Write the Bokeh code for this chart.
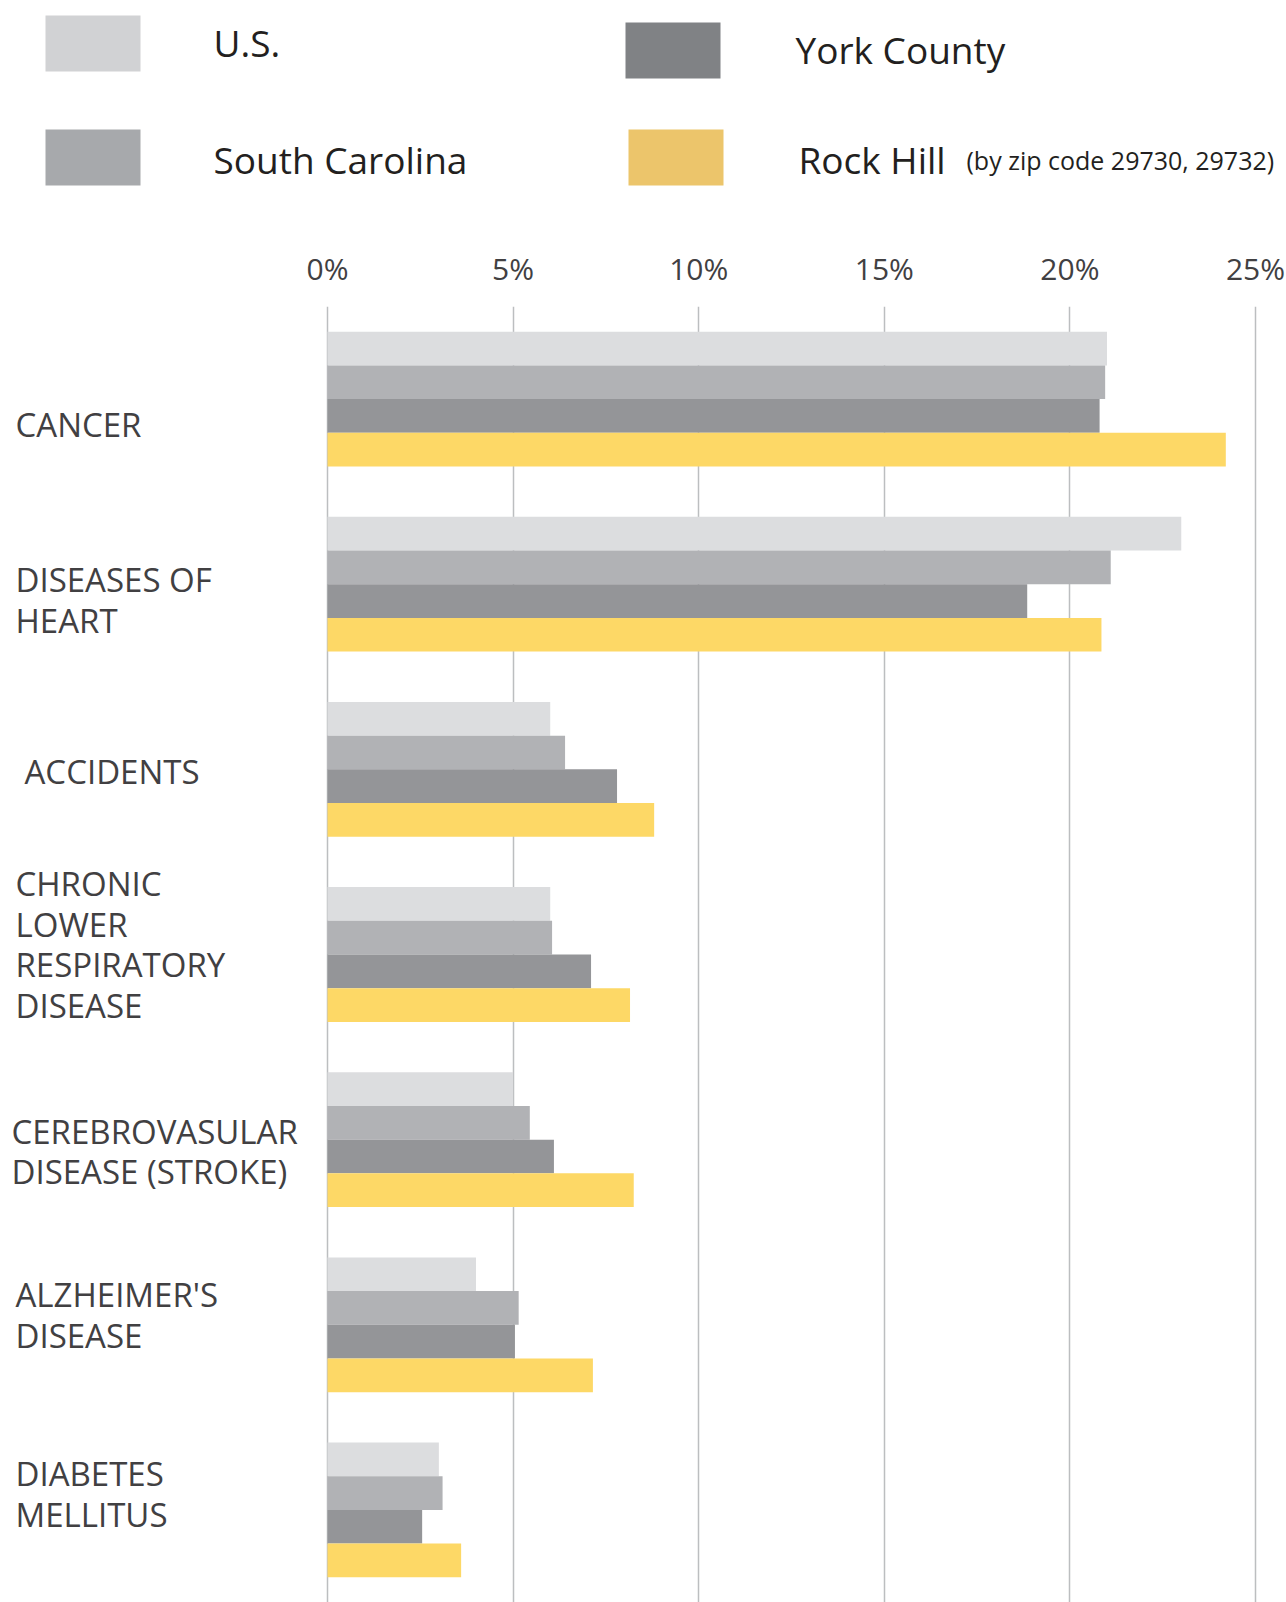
from bokeh.plotting import figure
from bokeh.layouts import column
from bokeh.models import FactorRange, Range1d, LinearAxis, FixedTicker, Grid, ColumnDataSource
from bokeh.transform import dodge
from bokeh.core.properties import value
from bokeh.embed import file_html
from bokeh.resources import INLINE

# ---------------- data ----------------
categories = ["CANCER", "DISEASES OF\nHEART", "ACCIDENTS", "CHRONIC\nLOWER\nRESPIRATORY\nDISEASE",
              "CEREBROVASULAR\nDISEASE (STROKE)", "ALZHEIMER'S\nDISEASE", "DIABETES\nMELLITUS"]
series_names = ["U.S.", "South Carolina", "York County", "Rock Hill"]
us = [21.0, 23.0, 6.0, 6.0, 5.0, 4.0, 3.0]
south_carolina = [20.95, 21.1, 6.4, 6.05, 5.45, 5.15, 3.1]
york_county = [20.8, 18.85, 7.8, 7.1, 6.1, 5.05, 2.55]
rock_hill = [24.2, 20.85, 8.8, 8.15, 8.25, 7.15, 3.6]
tick_values = [0, 5, 10, 15, 20, 25]
tick_labels = ["0%", "5%", "10%", "15%", "20%", "25%"]

# ---------------- styles ----------------
FONT = "Open Sans"
bar_colors = ["#dcdddf", "#b1b2b5", "#949598", "#fdd866"]
legend_colors = ["#d1d2d4", "#a7a9ac", "#808285", "#ecc56b"]
label_color = "#414042"
legend_text_color = "#231f20"
label_dy = [25, 16, 2, -10, 12, -10, -16]  # vertical nudges of category labels (px)
label_dx = [0, 0, 9, 0, -4, 0, 0]          # horizontal nudges of category labels (px)

W = 1286
LEG_H = 215
MAIN_H = 1602 - LEG_H
X0 = 327.0            # pixel of 0%
PX_PER_UNIT = 37.12   # pixels per percentage point

# ---------------- legend figure ----------------
leg = figure(width=W, height=LEG_H, x_range=Range1d(0, W), y_range=Range1d(LEG_H, 0),
             toolbar_location=None, output_backend="svg",
             x_axis_location=None, y_axis_location=None,
             min_border=0, outline_line_color=None)
leg.xgrid.grid_line_color = None
leg.ygrid.grid_line_color = None

sq_left = [45, 45, 625, 628]
sq_top = [15, 129, 22, 129]
leg.quad(left=sq_left, right=[l + 95 for l in sq_left], top=sq_top, bottom=[t + 56 for t in sq_top],
         fill_color=legend_colors, line_color=None)
leg.text(x=[213, 213, 795, 798], y=[42, 159, 49, 159], text=series_names,
         text_font=value(FONT), text_font_size="37px", text_color=legend_text_color,
         text_baseline="alphabetic", text_align="left")
leg.text(x=[966], y=[159], text=["(by zip code 29730, 29732)"],
         text_font=value(FONT), text_font_size="25px", text_color=legend_text_color,
         text_baseline="alphabetic", text_align="left")

# ---------------- main chart ----------------
factors = list(reversed(categories))
x_start = -X0 / PX_PER_UNIT
x_end = (W - X0) / PX_PER_UNIT

p = figure(width=W, height=MAIN_H, y_range=FactorRange(*factors), x_range=Range1d(x_start, x_end),
           toolbar_location=None, output_backend="svg",
           x_axis_location=None, y_axis_location=None,
           min_border_left=0, min_border_right=0, min_border_top=91, min_border_bottom=0,
           outline_line_color=None)
p.xgrid.grid_line_color = None
p.ygrid.grid_line_color = None

ticker = FixedTicker(ticks=tick_values)
grid = Grid(dimension=0, ticker=ticker, grid_line_color="#bcbec0", grid_line_width=1.5)
p.add_layout(grid)

ax = LinearAxis(ticker=ticker)
ax.major_label_overrides = {v: s for v, s in zip(tick_values, tick_labels)}
ax.axis_line_color = None
ax.major_tick_line_color = None
ax.minor_tick_line_color = None
ax.major_label_text_font = FONT
ax.major_label_text_font_size = "30px"
ax.major_label_text_color = label_color
ax.major_label_standoff = 12
p.add_layout(ax, "above")

src = ColumnDataSource(dict(cat=categories, us=us, sc=south_carolina, york=york_county, rh=rock_hill,
                            dy=label_dy, dx=label_dx))
offsets = [0.273, 0.091, -0.091, -0.273]
cols = ["us", "sc", "york", "rh"]
for col, off, color in zip(cols, offsets, bar_colors):
    p.hbar(y=dodge("cat", off, range=p.y_range), left=0, right=col, height=0.182,
           source=src, fill_color=color, line_color=None)

p.text(x=(15 - X0) / PX_PER_UNIT, y="cat", text="cat", y_offset="dy", x_offset="dx", source=src,
       text_font=value(FONT), text_font_size="33px", text_color=label_color,
       text_align="left", text_baseline="middle", text_line_height=0.9)

layout = column(leg, p, spacing=0)
open("out.html", "w").write(file_html(layout, INLINE))
